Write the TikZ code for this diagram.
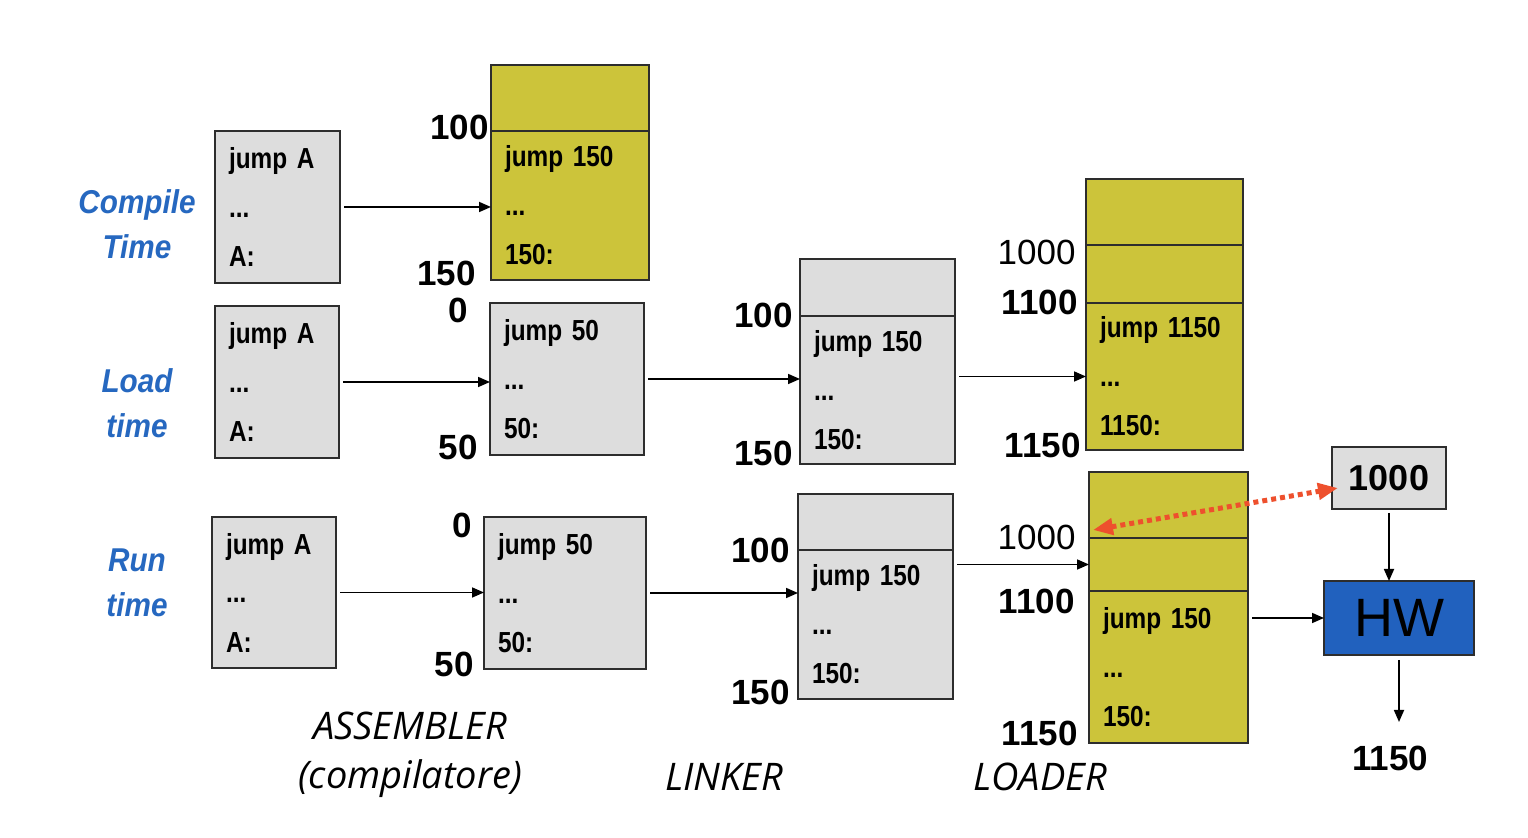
\documentclass[tikz,border=0pt]{standalone}
\usepackage{fontspec}
\usetikzlibrary{arrows.meta, positioning}

\newfontfamily\codefont[FakeStretch=0.84]{Liberation Sans}
\newfontfamily\numfont{Liberation Sans}
\newfontfamily\phasefont[FakeStretch=0.9]{Liberation Sans}
\newfontfamily\toolfont{Open Sans}
\DeclareRobustCommand\codestyle{\codefont\bfseries\fontsize{14.5}{24.5}\selectfont\spaceskip=2.5pt\relax}

\definecolor{memgray}{RGB}{221,221,221}
\definecolor{memyellow}{RGB}{204,196,58}
\definecolor{border}{RGB}{45,45,45}
\definecolor{phaseblue}{RGB}{38,104,192}
\definecolor{hwblue}{RGB}{33,97,190}
\definecolor{linkred}{RGB}{238,80,45}

\begin{document}
\begin{tikzpicture}[x=0.5pt, y=-0.5pt, >={Triangle[length=6pt,width=5pt]},
	box/.style={draw=border, line width=1pt, inner sep=0pt, outer sep=0pt},
	memcell/.style 2 args={box, fill=memgray, text width=#1, minimum height=#2, inner xsep=7pt, align=left, font=\codestyle},
	slot/.style 2 args={box, minimum width=#1, minimum height=#2},
	addr/.style={font=\numfont\bfseries\fontsize{17.5}{20}\selectfont, inner sep=0pt, anchor=east},
	reloc/.style={font=\numfont\fontsize{17.5}{20}\selectfont, inner sep=0pt, anchor=east},
	phase/.style={text=phaseblue, align=center, font=\phasefont\bfseries\itshape\fontsize{16.5}{22.5}\selectfont},
	tool/.style={align=center, font=\toolfont\itshape\fontsize{19}{24.5}\selectfont},
	flow/.style={->, line width=0.85pt, shorten <=2pt},
	reloclink/.style={linkred, line width=2.5pt, dash pattern=on 2.5pt off 2pt, {Triangle[length=10pt,width=8pt]}-{Triangle[length=10pt,width=8pt]}}]
	
	\useasboundingbox[fill=white] (0,0) rectangle (1528,838);
	
	% compile time
	\node (ctime) [phase] at (137,224.5) {Compile\\Time};
	\node (srcA) [memcell={48.5pt}{76pt}] at (277.5,207) {jump A\\...\\A:};
	\node (comp) [memcell={65pt}{74.5pt}, fill=memyellow] at (570,205.5) {jump 150\\...\\150:};
	\node (compTop) [slot={79pt}{33pt}, fill=memyellow, above=0pt of comp] {};
	\node (comp100) [addr] at (489,127) {100};
	\node (comp150) [addr] at (476,273) {150};
	
	% load time
	\node (ltime) [phase] at (137,403) {Load\\time};
	\node (srcB) [memcell={48pt}{76pt}] at (277,382) {jump A\\...\\A:};
	\node (asmB) [memcell={63pt}{76pt}] at (567,379) {jump 50\\...\\50:};
	\node (asmB0) [addr, anchor=center] at (458,310) {0};
	\node (asmB50) [addr] at (478,447) {50};
	\node (lnkB) [memcell={63.5pt}{74pt}] at (877.5,390) {jump 150\\...\\150:};
	\node (lnkBTop) [slot={77.5pt}{28.5pt}, fill=memgray, above=0pt of lnkB] {};
	\node (lnkB100) [addr] at (793,315) {100};
	\node (lnkB150) [addr] at (793,453) {150};
	\node (ldB) [memcell={64.5pt}{73.5pt}, fill=memyellow] at (1164.5,376.5) {jump 1150\\...\\1150:};
	\node (ldBMid) [slot={78.5pt}{29pt}, fill=memyellow, above=0pt of ldB] {};
	\node (ldBTop) [slot={78.5pt}{33pt}, fill=memyellow, above=0pt of ldBMid] {};
	\node (ldB1000) [reloc] at (1076,252) {1000};
	\node (ldB1100) [addr] at (1078,302) {1100};
	\node (ldB1150) [addr] at (1081,445) {1150};
	
	% run time
	\node (rtime) [phase] at (137,583) {Run\\time};
	\node (srcC) [memcell={48pt}{75.5pt}] at (274,592.5) {jump A\\...\\A:};
	\node (asmC) [memcell={67pt}{76pt}] at (565,593) {jump 50\\...\\50:};
	\node (asmC0) [addr, anchor=center] at (462,525) {0};
	\node (asmC50) [addr] at (474,664) {50};
	\node (lnkC) [memcell={63.5pt}{74.5pt}] at (875.5,624.5) {jump 150\\...\\150:};
	\node (lnkCTop) [slot={77.5pt}{28pt}, fill=memgray, above=0pt of lnkC] {};
	\node (lnkC100) [addr] at (790,550) {100};
	\node (lnkC150) [addr] at (790,692) {150};
	\node (ldC) [memcell={65.5pt}{76pt}, fill=memyellow] at (1168.5,667) {jump 150\\...\\150:};
	\node (ldCMid) [slot={79.5pt}{26.5pt}, fill=memyellow, above=0pt of ldC] {};
	\node (ldCTop) [slot={79.5pt}{33pt}, fill=memyellow, above=0pt of ldCMid] {};
	\node (ldC1000) [reloc] at (1076,537) {1000};
	\node (ldC1100) [addr] at (1075,601) {1100};
	\node (ldC1150) [addr] at (1078,733) {1150};
	\node (reg) [box, fill=memgray, minimum width=57pt, minimum height=31pt, font=\numfont\bfseries\fontsize{18}{20}\selectfont] at (1389,478) {1000};
	\node (hw) [box, fill=hwblue, minimum width=75pt, minimum height=37pt, font=\numfont\fontsize{27}{30}\selectfont] at (1399,618) {HW};
	\coordinate (out) at (1395,722);
	\node (res) [addr, anchor=center] at (1390,758) {1150};
	
	% tools
	\node (asm) [tool] at (410,755) {ASSEMBLER\\(compilatore)};
	\node (lnk) [tool] at (724,777) {LINKER};
	\node (ldr) [tool] at (1040,777) {LOADER};
	
	\draw [flow] (srcA.east) -- (srcA.east -| comp.west);
	\draw [flow] (srcB.east) -- (srcB.east -| asmB.west);
	\draw [flow] (asmB.east) -- (asmB.east -| lnkB.west);
	\draw [flow] (ldB.west -| lnkB.east) -- (ldB.west);
	\draw [flow] (srcC.east) -- (srcC.east -| asmC.west);
	\draw [flow] (asmC.east) -- (asmC.east -| lnkC.west);
	\draw [flow] (ldCMid.west -| lnkC.east) -- (ldCMid.west);
	\draw [flow] (hw.west -| ldC.east) -- (hw.west);
	\draw [flow] (reg.south) -- (reg.south |- hw.north);
	\draw [flow, shorten <=2.5pt] (hw.south) -- (hw.south |- out);
	\draw [reloclink] ([shift={(2pt,4pt)}]ldCTop.south west) -- ([shift={(3pt,-5pt)}]reg.west);
	
\end{tikzpicture}
\end{document}
